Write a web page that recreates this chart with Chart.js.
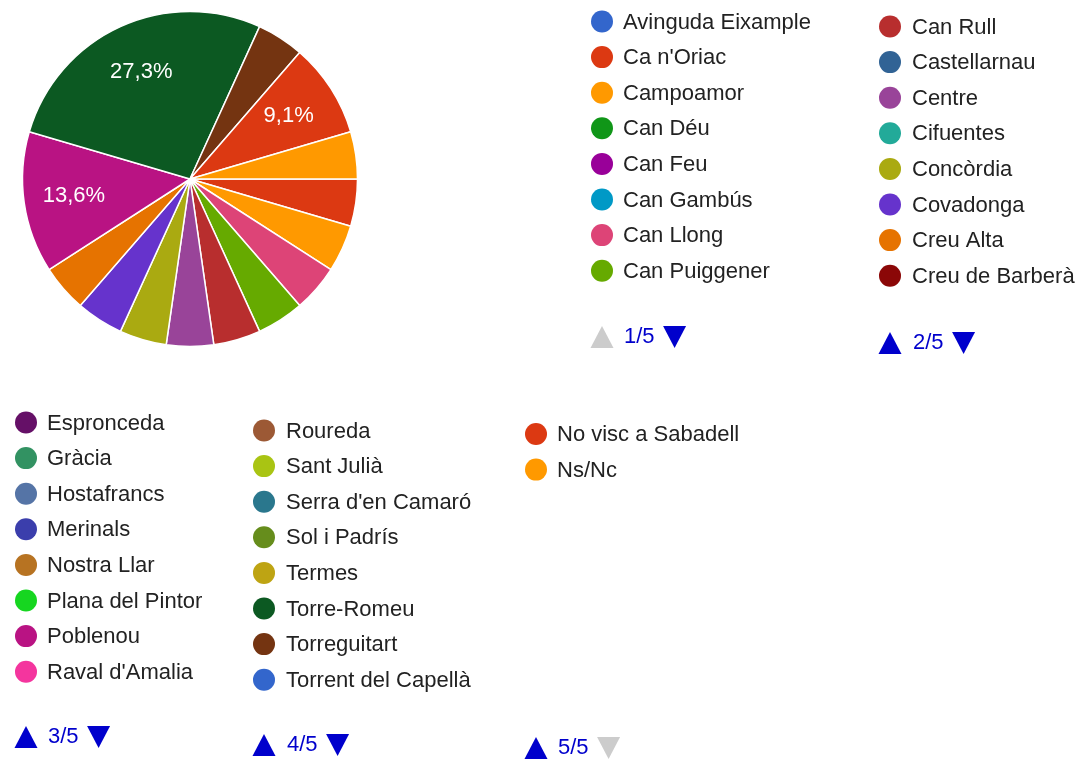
<!DOCTYPE html>
<html>
<head>
<meta charset="utf-8">
<title>Barri de residència</title>
<script src="https://cdn.jsdelivr.net/npm/chart.js@4.4.1/dist/chart.umd.min.js"></script>
<style>
  html, body { margin: 0; padding: 0; background: #ffffff; }
  #wrap { position: relative; width: 1081px; height: 760px; }
  canvas { display: block; }
</style>
</head>
<body>
<div id="wrap"><canvas id="pie" width="1081" height="760"></canvas></div>
<script>
// Neighbourhoods (legend order = slice order)
const barris = [
  "Avinguda Eixample", "Ca n'Oriac", "Campoamor", "Can Déu", "Can Feu",
  "Can Gambús", "Can Llong", "Can Puiggener", "Can Rull", "Castellarnau",
  "Centre", "Cifuentes", "Concòrdia", "Covadonga", "Creu Alta",
  "Creu de Barberà", "Espronceda", "Gràcia", "Hostafrancs", "Merinals",
  "Nostra Llar", "Plana del Pintor", "Poblenou", "Raval d'Amalia", "Roureda",
  "Sant Julià", "Serra d'en Camaró", "Sol i Padrís", "Termes", "Torre-Romeu",
  "Torreguitart", "Torrent del Capellà", "No visc a Sabadell", "Ns/Nc"
];

// Number of answers per neighbourhood
const respostes = [
  0, 1, 1, 0, 0,
  0, 1, 1, 1, 0,
  1, 0, 1, 1, 1,
  0, 0, 0, 0, 0,
  0, 0, 3, 0, 0,
  0, 0, 0, 0, 6,
  1, 0, 2, 1
];

// Slice colours
const colors = [
  "#3366cc", "#dc3912", "#ff9900", "#109618", "#990099",
  "#0099c6", "#dd4477", "#66aa00", "#b82e2e", "#316395",
  "#994499", "#22aa99", "#aaaa11", "#6633cc", "#e67300",
  "#8b0707", "#651067", "#329262", "#5574a6", "#3b3eac",
  "#b77322", "#16d620", "#b91383", "#f4359e", "#9c5935",
  "#a9c413", "#2a778d", "#668d1c", "#bea413", "#0c5922",
  "#743411", "#3366cc", "#dc3912", "#ff9900"
];

// Legend pages: 8 entries per page
const perPage = 8;

const FONT = '"Liberation Sans", Arial, sans-serif';

// Placement of each legend page block
const pageBlocks = [
  { dotX: 602, textX: 623, firstY: 21.5, pagerY: 337 },
  { dotX: 890, textX: 912, firstY: 26.5, pagerY: 343 },
  { dotX: 26,  textX: 47,  firstY: 422.5, pagerY: 737 },
  { dotX: 264, textX: 286, firstY: 430.5, pagerY: 745 },
  { dotX: 536, textX: 557, firstY: 434, pagerY: 748 }
];
const rowStep = 35.6;

function fmtPct(v, total) {
  return (v / total * 100).toFixed(1).replace('.', ',') + '%';
}

// Percentage text inside large slices
const sliceLabels = {
  id: 'sliceLabels',
  afterDatasetsDraw(chart) {
    const ctx = chart.ctx;
    const meta = chart.getDatasetMeta(0);
    const data = chart.data.datasets[0].data;
    const total = data.reduce((a, b) => a + b, 0);
    ctx.save();
    ctx.font = '22px ' + FONT;
    ctx.fillStyle = '#ffffff';
    ctx.textAlign = 'center';
    ctx.textBaseline = 'middle';
    meta.data.forEach((arc, i) => {
      const v = data[i];
      if (!v || v / total < 0.06) return;
      const p = arc.getProps(['x', 'y', 'startAngle', 'endAngle', 'outerRadius'], true);
      const mid = (p.startAngle + p.endAngle) / 2;
      const r = p.outerRadius * 0.7;
      ctx.fillText(fmtPct(v, total), p.x + Math.cos(mid) * r, p.y + Math.sin(mid) * r);
    });
    ctx.restore();
  }
};

function triangle(ctx, cx, cy, up, color) {
  const w = 23, h = 22;
  ctx.beginPath();
  if (up) {
    ctx.moveTo(cx, cy - h / 2);
    ctx.lineTo(cx + w / 2, cy + h / 2);
    ctx.lineTo(cx - w / 2, cy + h / 2);
  } else {
    ctx.moveTo(cx - w / 2, cy - h / 2);
    ctx.lineTo(cx + w / 2, cy - h / 2);
    ctx.lineTo(cx, cy + h / 2);
  }
  ctx.closePath();
  ctx.fillStyle = color;
  ctx.fill();
}

// Paged legend blocks, one per page
const pagedLegend = {
  id: 'pagedLegend',
  afterDraw(chart) {
    const ctx = chart.ctx;
    const labels = chart.data.labels;
    const bg = chart.data.datasets[0].backgroundColor;
    const pages = Math.ceil(labels.length / perPage);
    ctx.save();
    ctx.font = '22px ' + FONT;
    ctx.textBaseline = 'middle';
    for (let pg = 0; pg < pages; pg++) {
      const b = pageBlocks[pg];
      const items = labels.slice(pg * perPage, (pg + 1) * perPage);
      items.forEach((lab, k) => {
        const idx = pg * perPage + k;
        const y = b.firstY + k * rowStep;
        ctx.beginPath();
        ctx.arc(b.dotX, y, 11, 0, Math.PI * 2);
        ctx.fillStyle = bg[idx];
        ctx.fill();
        ctx.fillStyle = '#222222';
        ctx.textAlign = 'left';
        ctx.fillText(lab, b.textX, y + 1);
      });
      // pager
      const py = b.pagerY;
      triangle(ctx, b.dotX, py, true, pg === 0 ? '#cccccc' : '#0000cc');
      ctx.fillStyle = '#0000cc';
      ctx.textAlign = 'left';
      const txt = (pg + 1) + '/' + pages;
      ctx.fillText(txt, b.textX + 1, py);
      const tw = ctx.measureText(txt).width;
      triangle(ctx, b.textX + 1 + tw + 20, py, false, pg === pages - 1 ? '#cccccc' : '#0000cc');
    }
    ctx.restore();
  }
};

new Chart(document.getElementById('pie'), {
  type: 'pie',
  data: {
    labels: barris,
    datasets: [{
      data: respostes,
      backgroundColor: colors,
      borderColor: '#ffffff',
      borderWidth: 1.5
    }]
  },
  options: {
    responsive: false,
    animation: false,
    devicePixelRatio: 1,
    rotation: 90,
    layout: { padding: { left: 21.75, top: 10.75, right: 722.75, bottom: 412.75 } },
    plugins: {
      legend: { display: false },
      tooltip: { enabled: false }
    }
  },
  plugins: [sliceLabels, pagedLegend]
});
</script>
</body>
</html>
